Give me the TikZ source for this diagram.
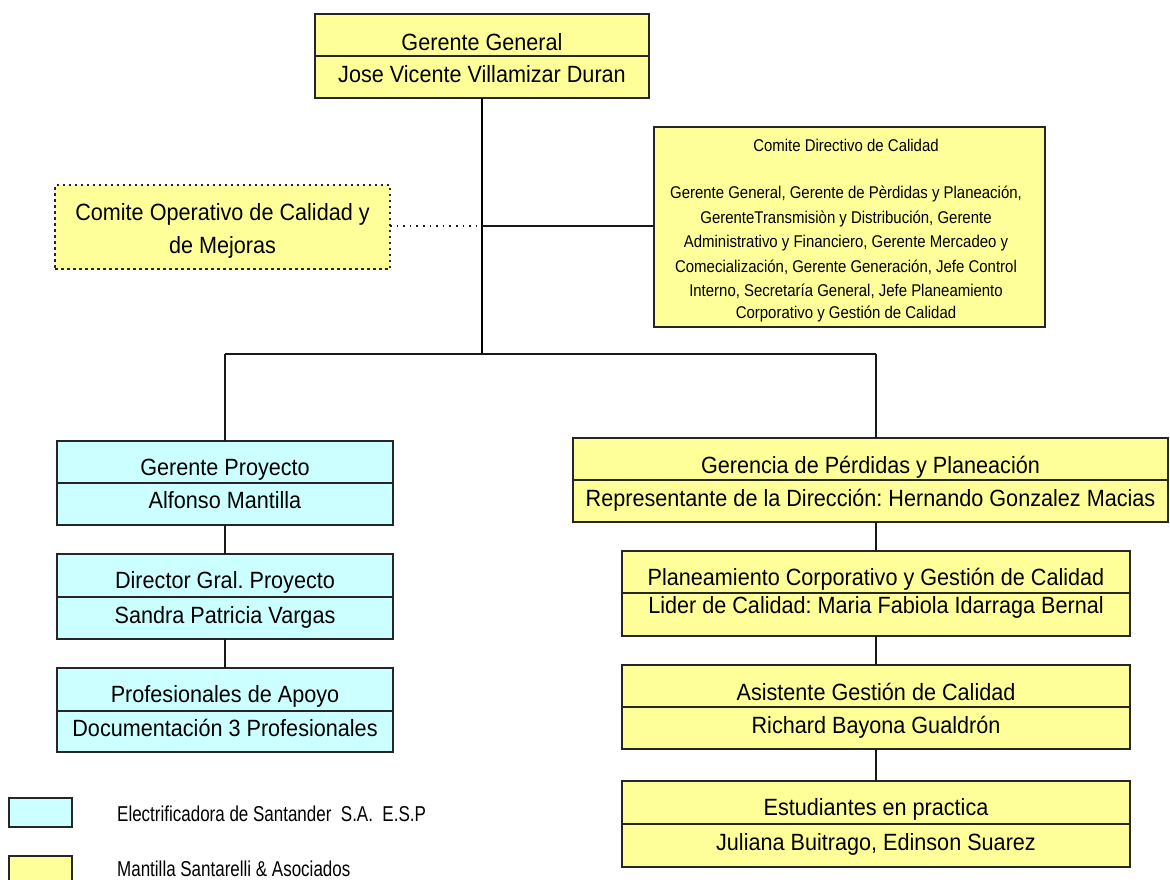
\documentclass[tikz,border=0pt]{standalone}
\usepackage{fontspec}
\setmainfont{Liberation Sans}
\newfontfamily\bxfont[FakeStretch=0.92]{Liberation Sans}
\newfontfamily\cdfont[FakeStretch=0.88]{Liberation Sans}
\newfontfamily\lgfont[FakeStretch=0.79]{Liberation Sans}
\definecolor{ylw}{HTML}{FFFF99}
\definecolor{cyn}{HTML}{CCFFFF}
\tikzset{
  orgbox/.style={draw=black!85, line width=1.3pt, inner sep=0pt, outer sep=0pt},
  ybox/.style={orgbox, fill=ylw},
  cbox/.style={orgbox, fill=cyn},
  lbl/.style={anchor=base, inner sep=0pt, font=\bxfont\fontsize{23.5}{27}\selectfont},
  cdl/.style={anchor=base, inner sep=0pt, font=\cdfont\fontsize{17}{20}\selectfont},
  lgl/.style={anchor=base west, inner sep=0pt, font=\lgfont\fontsize{21.5}{25}\selectfont},
  link/.style={draw=black!90, line width=1.3pt},
  mainlink/.style={draw=black, line width=2pt},
  dotlink/.style={draw=black!90, line width=1.3pt, dash pattern=on 1.6pt off 5pt},
  divider/.style={draw=black!85, line width=1.3pt},
}
\begin{document}
\frenchspacing
\begin{tikzpicture}[x=1pt,y=-1pt]
\useasboundingbox (0,0) rectangle (1170,879);

% ---------- top: Gerente General ----------
\node[ybox, minimum width=334pt, minimum height=84pt] (gg) at (482,56) {};
\draw[divider] (gg.north west) ++(0,42) -- ++(334,0);
\node[lbl] (gg1) at (482,50) {Gerente General};
\node[lbl] (gg2) at (482,82) {Jose Vicente Villamizar Duran};

% ---------- Comite Operativo ----------
\node[orgbox, fill=ylw, dash pattern=on 2.5pt off 3.5pt, minimum width=335pt, minimum height=84pt] (coo) at (222.5,227) {};
\node[lbl] (coo1) at (222.5,220) {Comite Operativo de Calidad y};
\node[lbl] (coo2) at (222.5,253) {de Mejoras};

% ---------- Comite Directivo ----------
\node[ybox, minimum width=391pt, minimum height=200pt] (cdc) at (849.5,227) {};
\node[cdl] (cd0) at (846,151) {Comite Directivo de Calidad};
\node[cdl] (cd1) at (846,198) {Gerente General, Gerente de Pèrdidas y Planeación,};
\node[cdl] (cd2) at (846,223) {GerenteTransmisiòn y Distribución, Gerente};
\node[cdl] (cd3) at (846,247.5) {Administrativo y Financiero, Gerente Mercadeo y};
\node[cdl] (cd4) at (846,272) {Comecialización, Gerente Generación, Jefe Control};
\node[cdl] (cd5) at (846,296) {Interno, Secretaría General, Jefe Planeamiento};
\node[cdl] (cd6) at (846,318.5) {Corporativo y Gestión de Calidad};

% ---------- left column ----------
\node[cbox, minimum width=336pt, minimum height=84pt] (gp) at (225,483) {};
\draw[divider] (gp.north west) ++(0,42) -- ++(336,0);
\node[lbl] (gp1) at (225,475) {Gerente Proyecto};
\node[lbl] (gp2) at (225,508) {Alfonso Mantilla};

\node[cbox, minimum width=336pt, minimum height=85pt] (dg) at (225,596.5) {};
\draw[divider] (dg.north west) ++(0,43) -- ++(336,0);
\node[lbl] (dg1) at (225,588.5) {Director Gral. Proyecto};
\node[lbl] (dg2) at (225,623) {Sandra Patricia Vargas};

\node[cbox, minimum width=336pt, minimum height=84pt] (pa) at (225,710) {};
\draw[divider] (pa.north west) ++(0,43) -- ++(336,0);
\node[lbl] (pa1) at (225,702) {Profesionales de Apoyo};
\node[lbl] (pa2) at (225,736) {Documentación 3 Profesionales};

% ---------- right column ----------
\node[ybox, minimum width=595pt, minimum height=84pt] (ger) at (870.5,480) {};
\draw[divider] (ger.north west) ++(0,42) -- ++(595,0);
\node[lbl] (ger1) at (870.5,473) {Gerencia de Pérdidas y Planeación};
\node[lbl] (ger2) at (870.5,506.5) {Representante de la Dirección: Hernando Gonzalez Macias};

\node[ybox, minimum width=508pt, minimum height=85pt] (pc) at (876,593.5) {};
\draw[divider] (pc.north west) ++(0,42) -- ++(508,0);
\node[lbl] (pc1) at (876,585) {Planeamiento Corporativo y Gestión de Calidad};
\node[lbl] (pc2) at (876,613) {Lider de Calidad: Maria Fabiola Idarraga Bernal};

\node[ybox, minimum width=508pt, minimum height=84pt] (ag) at (876,707) {};
\draw[divider] (ag.north west) ++(0,42) -- ++(508,0);
\node[lbl] (ag1) at (876,700) {Asistente Gestión de Calidad};
\node[lbl] (ag2) at (876,733.5) {Richard Bayona Gualdrón};

\node[ybox, minimum width=508pt, minimum height=86pt] (ep) at (876,824) {};
\draw[divider] (ep.north west) ++(0,43) -- ++(508,0);
\node[lbl] (ep1) at (876,815) {Estudiantes en practica};
\node[lbl] (ep2) at (876,850) {Juliana Buitrago, Edinson Suarez};

% ---------- connectors ----------
\coordinate (jn) at (482,226);
\coordinate (busm) at (482,354);
\coordinate (busl) at (225,354);
\coordinate (busr) at (876,354);
\draw[mainlink] (gg.south) -- (busm);
\draw[link] (busl) -- (busr);
\draw[link] (jn) -- (jn -| cdc.west);
\draw[dotlink] (jn -| coo.east) -- (jn);
\draw[link] (busl) -- (gp.north);
\draw[link] (busr) -- (busr |- ger.north);
\draw[link] (gp.south) -- (dg.north);
\draw[link] (dg.south) -- (pa.north);
\draw[link] (pc.north |- ger.south) -- (pc.north);
\draw[link] (pc.south) -- (ag.north);
\draw[link] (ag.south) -- (ep.north);

% ---------- legend ----------
\node[cbox, minimum width=63pt, minimum height=29pt] (lg1) at (40.5,812.5) {};
\node[ybox, minimum width=63pt, minimum height=29pt] (lg2) at (40.5,870.5) {};
\node[lgl] (lt1) at (117,821) {Electrificadora de Santander\ \ S.A.\ \ E.S.P};
\node[lgl] (lt2) at (117,876) {Mantilla Santarelli \& Asociados};
\end{tikzpicture}
\end{document}
